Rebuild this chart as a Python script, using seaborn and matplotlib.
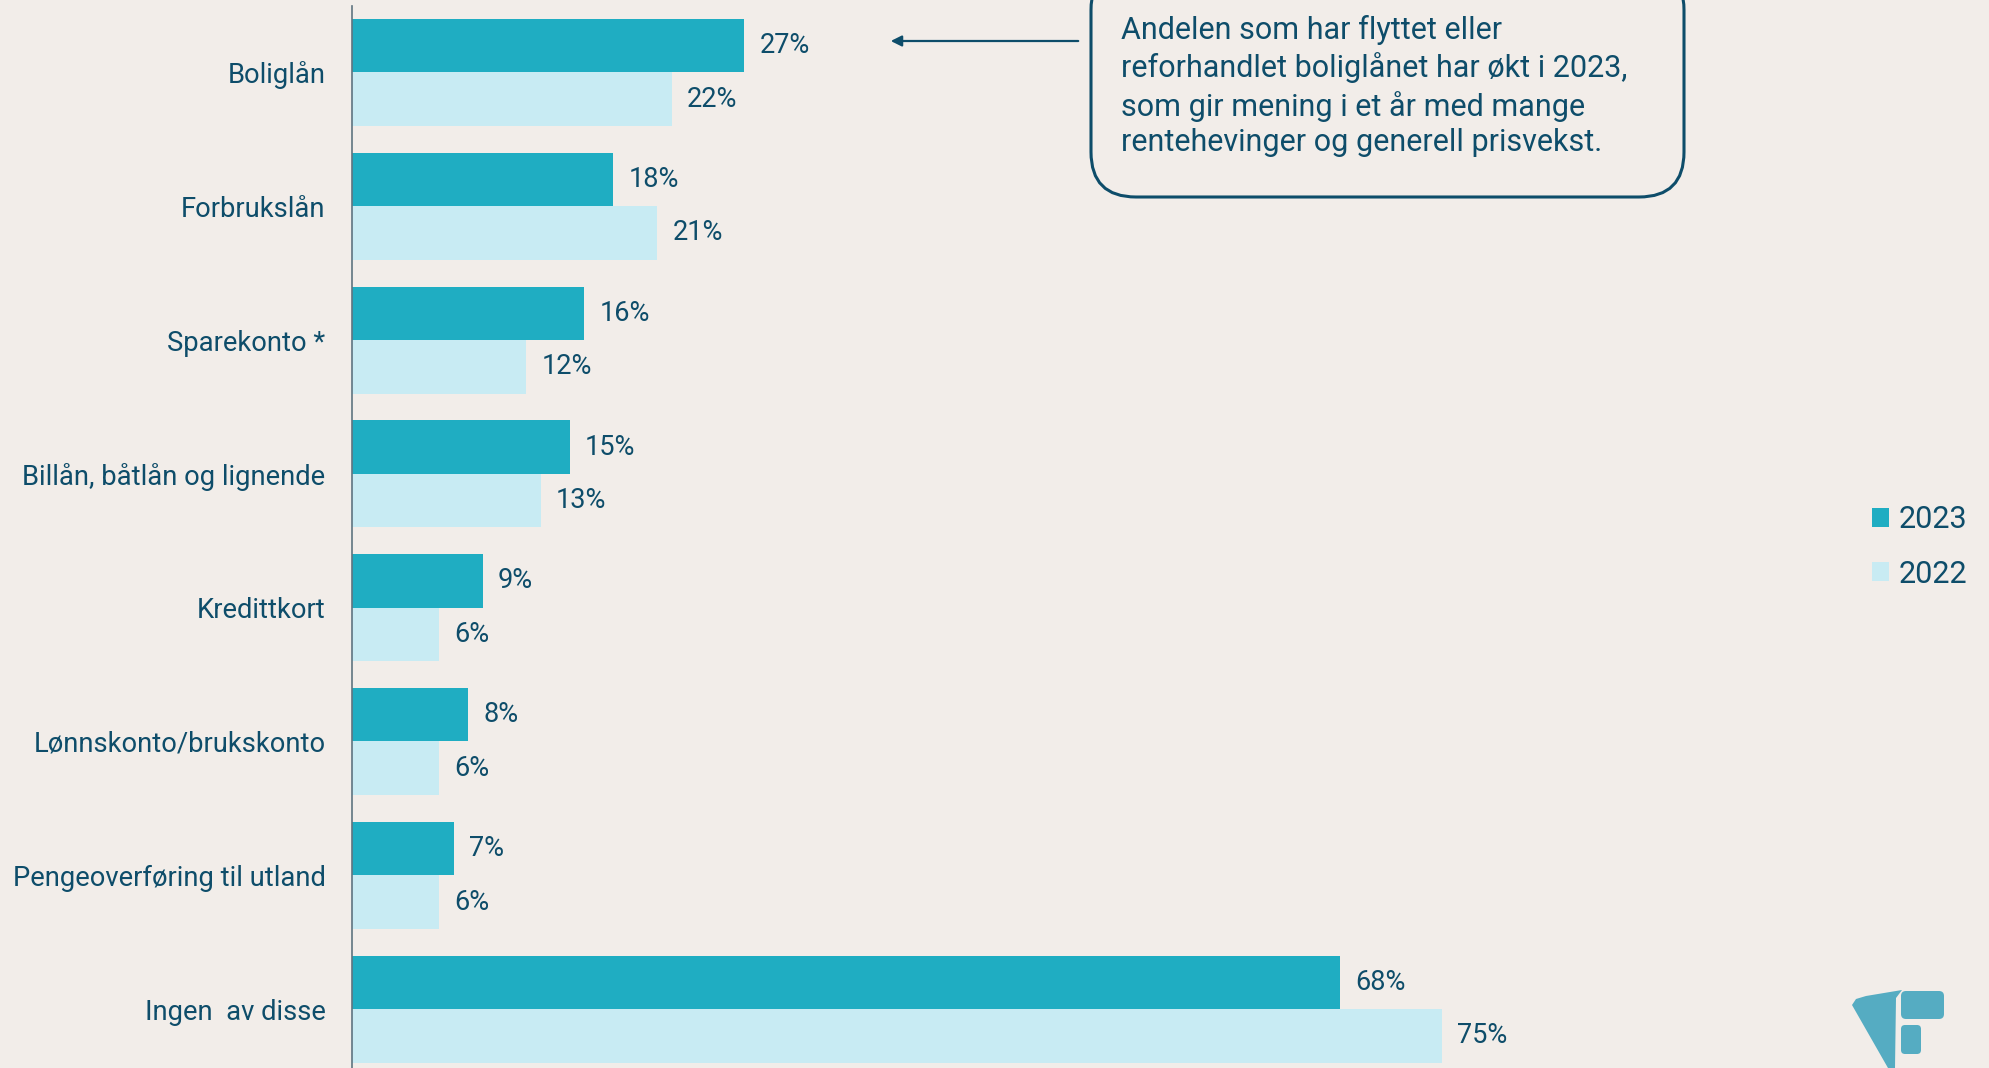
import pandas as pd
import matplotlib.pyplot as plt
import seaborn as sb
from matplotlib.patches import Patch, FancyBboxPatch, Polygon

# data
kategorier = ["Boliglån", "Forbrukslån", "Sparekonto *", "Billån, båtlån og lignende",
              "Kredittkort", "Lønnskonto/brukskonto", "Pengeoverføring til utland", "Ingen  av disse"]
verdier_2023 = [27, 18, 16, 15, 9, 8, 7, 68]
verdier_2022 = [22, 21, 12, 13, 6, 6, 6, 75]
aar = ["2023", "2022"]
notat = ("Andelen som har flyttet eller\nreforhandlet boliglånet har økt i 2023,\n"
         "som gir mening i et år med mange\nrentehevinger og generell prisvekst.")

bg = "#F2EDE9"
txt = "#0E4D6A"
farger = ["#1FADC2", "#C8EBF3"]

df = pd.DataFrame({
    "kategori": kategorier * 2,
    "andel": verdier_2023 + verdier_2022,
    "år": [aar[0]] * len(kategorier) + [aar[1]] * len(kategorier),
})

sb.set_style("white")
plt.rcParams["font.family"] = ["Roboto", "DejaVu Sans"]
plt.rcParams["text.color"] = txt

fig = plt.figure(figsize=(19.9, 10.68), dpi=100, facecolor=bg)
ax = fig.add_axes([352 / 1990, -8 / 1068, 0.73, (1068 - 5.5 + 8) / 1068])
ax.set_facecolor(bg)

sb.barplot(data=df, y="kategori", x="andel", hue="år", palette=farger, orient="h",
           width=0.8, saturation=1, legend=False, linewidth=0, edgecolor="none", ax=ax)

for cont in ax.containers:
    ax.bar_label(cont, labels=[f"{v:.0f}%" for v in cont.datavalues], padding=11,
                 fontsize=19.5, color=txt)

ax.set_xlim(0, 100)
ax.set_ylim(7.5, -0.5)
ax.set_xlabel("")
ax.set_ylabel("")
ax.set_xticks([])
ax.tick_params(axis="y", length=0, pad=19, labelsize=19.7, labelcolor=txt)
for s in ["top", "right", "bottom"]:
    ax.spines[s].set_visible(False)
ax.spines["left"].set_color("#5f7480")
ax.spines["left"].set_linewidth(1.2)

handles = [Patch(facecolor=f, edgecolor="none") for f in farger]
fig.legend(handles, aar, loc="center left", bbox_to_anchor=(1872 / 1990, 1 - 547 / 1068),
           frameon=False, fontsize=22, handlelength=0.56, handleheight=0.56,
           handletextpad=0.3, labelspacing=0.82, borderpad=0, borderaxespad=0,
           labelcolor=txt)

# overlay in pixel coords for note box, arrow and logo
ov = fig.add_axes([0, 0, 1, 1], zorder=5)
ov.set_xlim(0, 1990)
ov.set_ylim(1068, 0)
ov.axis("off")

ov.add_patch(FancyBboxPatch((1091, -35), 593, 232, boxstyle="round,pad=0,rounding_size=45",
                            fc="none", ec=txt, lw=2.2))
ov.text(1121, 86, notat, fontsize=22, color=txt, va="center", ha="left", linespacing=1.3)
ov.annotate("", xy=(888, 41), xytext=(1081, 41),
            arrowprops=dict(arrowstyle="-|>", color=txt, lw=1.6, mutation_scale=16))

logo = "#55ACC2"
ov.add_patch(Polygon([(1852, 1005), (1856, 999), (1866, 996), (1902, 990), (1896, 998),
                      (1895, 1068), (1888, 1068)], closed=True, fc=logo, ec="none"))
ov.add_patch(FancyBboxPatch((1901, 991), 43, 28, boxstyle="round,pad=0,rounding_size=5",
                            fc=logo, ec="none"))
ov.add_patch(FancyBboxPatch((1901, 1025), 20, 29, boxstyle="round,pad=0,rounding_size=4",
                            fc=logo, ec="none"))

fig.savefig("out.png", dpi=100, facecolor=bg)
